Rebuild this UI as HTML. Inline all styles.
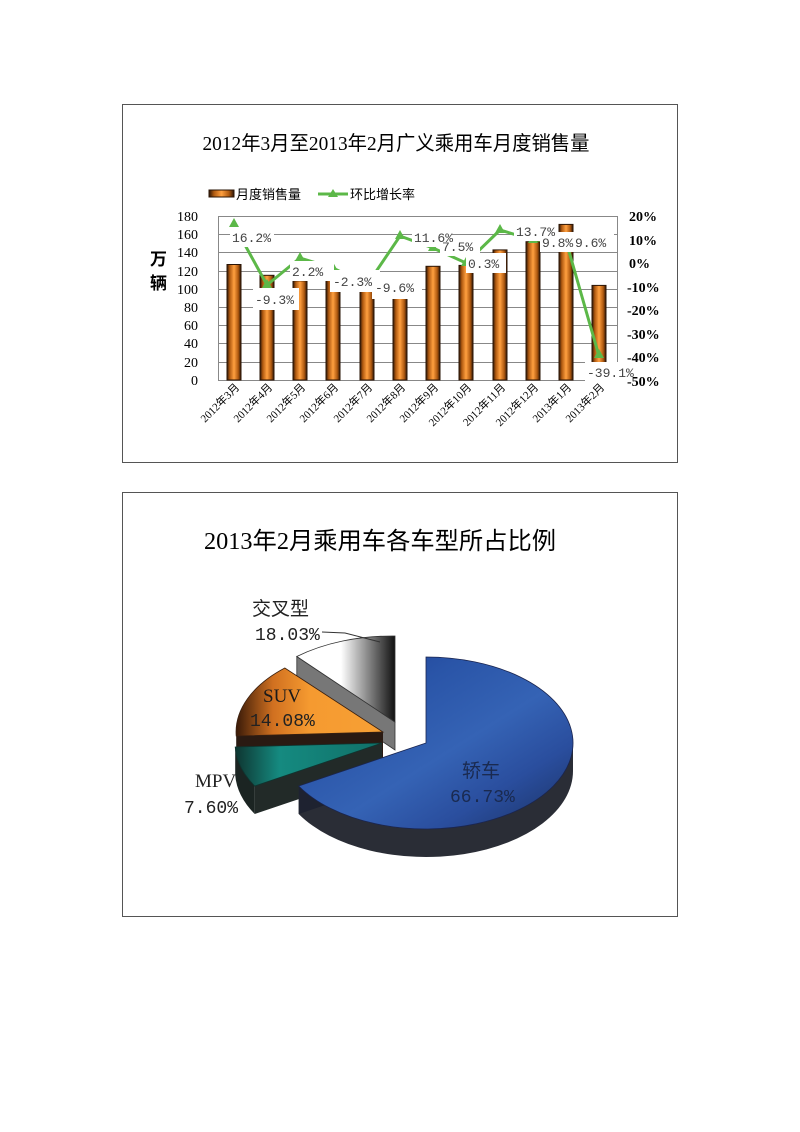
<!DOCTYPE html>
<html><head><meta charset="utf-8"><style>
html,body{margin:0;padding:0;background:#fff;}
svg{display:block;}
text{font-family:"Liberation Serif","Noto Serif CJK SC",serif;}
.cjk,.cjk text{font-family:"Liberation Serif","Noto Sans CJK SC",sans-serif;}
.mono,.mono text{font-family:"Liberation Mono","Noto Sans CJK SC",monospace;}
</style></head><body>
<svg width="800" height="1132" viewBox="0 0 800 1132" xmlns="http://www.w3.org/2000/svg">
<defs>
<linearGradient id="bar" x1="0" x2="1" y1="0" y2="0">
<stop offset="0" stop-color="#2a1406"/><stop offset="0.2" stop-color="#b05a10"/><stop offset="0.5" stop-color="#ffa040"/><stop offset="0.8" stop-color="#b05a10"/><stop offset="1" stop-color="#2a1406"/>
</linearGradient>
<linearGradient id="sedan" x1="0" y1="0" x2="1" y2="1">
<stop offset="0" stop-color="#1a3a90"/><stop offset="0.3" stop-color="#2a55a8"/><stop offset="0.55" stop-color="#3563b5"/><stop offset="0.75" stop-color="#2a4e9e"/><stop offset="1" stop-color="#1a3060"/>
</linearGradient>
<linearGradient id="white" x1="0" y1="0" x2="1" y2="0">
<stop offset="0" stop-color="#fff"/><stop offset="0.45" stop-color="#fff"/><stop offset="1" stop-color="#111"/>
</linearGradient>
<linearGradient id="suv" x1="0" y1="0" x2="1" y2="0">
<stop offset="0" stop-color="#3a1a08"/><stop offset="0.25" stop-color="#d07020"/><stop offset="0.5" stop-color="#f59a30"/><stop offset="1" stop-color="#f7a035"/>
</linearGradient>
<linearGradient id="mpv" x1="0" y1="0" x2="1" y2="0">
<stop offset="0" stop-color="#0e3530"/><stop offset="0.3" stop-color="#158a80"/><stop offset="1" stop-color="#107068"/>
</linearGradient>
</defs>

<rect x="122.5" y="104.5" width="555" height="358" fill="#fff" stroke="#555" stroke-width="1"/>
<text x="396" y="150" font-size="20" text-anchor="middle" textLength="387" lengthAdjust="spacingAndGlyphs" class="cjk">2012年3月至2013年2月广义乘用车月度销售量</text>

<rect x="209" y="190" width="25" height="7" fill="url(#bar)" stroke="#2a1406" stroke-width="1"/>
<text x="236" y="199" font-size="13" class="cjk">月度销售量</text>
<line x1="318" y1="194" x2="348" y2="194" stroke="#5cb848" stroke-width="3"/>
<polygon points="333,189 338,197 328,197" fill="#5cb848"/>
<text x="350" y="199" font-size="13" class="cjk">环比增长率</text>

<g stroke="#888" stroke-width="1">
<line x1="218" y1="216.5" x2="617" y2="216.5"/>
<line x1="218" y1="234.5" x2="617" y2="234.5"/>
<line x1="218" y1="252.5" x2="617" y2="252.5"/>
<line x1="218" y1="271.5" x2="617" y2="271.5"/>
<line x1="218" y1="289.5" x2="617" y2="289.5"/>
<line x1="218" y1="307.5" x2="617" y2="307.5"/>
<line x1="218" y1="325.5" x2="617" y2="325.5"/>
<line x1="218" y1="343.5" x2="617" y2="343.5"/>
<line x1="218" y1="362.5" x2="617" y2="362.5"/>
<line x1="218" y1="380.5" x2="617" y2="380.5"/>
<line x1="218.5" y1="216" x2="218.5" y2="380"/>
<line x1="617.5" y1="216" x2="617.5" y2="380"/>
</g>

<g fill="url(#bar)" stroke="#2a1406" stroke-width="1">
<rect x="227" y="264.5" width="14" height="115.5"/>
<rect x="260" y="275.3" width="14" height="104.7"/>
<rect x="293" y="280.8" width="14" height="99.2"/>
<rect x="326" y="275.3" width="14" height="104.7"/>
<rect x="360" y="290.8" width="14" height="89.2"/>
<rect x="393" y="296.3" width="14" height="83.7"/>
<rect x="426" y="266.3" width="14" height="113.7"/>
<rect x="459" y="265.4" width="14" height="114.6"/>
<rect x="493" y="249.9" width="14" height="130.1"/>
<rect x="526" y="241.7" width="14" height="138.3"/>
<rect x="559" y="224.4" width="14" height="155.6"/>
<rect x="592" y="285.4" width="14" height="94.6"/>
</g>

<polyline fill="none" stroke="#5cb848" stroke-width="3" points="234,225 267,285 300,258 333,268 367,285 400,236 433,248 466,263 500,230 533,240 566,241 599,356"/>
<g fill="#5cb848">
<polygon points="234,218 239,227 229,227"/>
<polygon points="267,279 272,288 262,288"/>
<polygon points="300,252 305,261 295,261"/>
<polygon points="333,262 338,271 328,271"/>
<polygon points="400,230 405,239 395,239"/>
<polygon points="433,242 438,251 428,251"/>
<polygon points="466,257 471,266 461,266"/>
<polygon points="500,224 505,233 495,233"/>
<polygon points="533,234 538,243 528,243"/>
<polygon points="599,349 604,358 594,358"/>
</g>

<g fill="#fff">
<rect x="230" y="227" width="44" height="20"/>
<rect x="253" y="288" width="46" height="22"/>
<rect x="290" y="261" width="44" height="20"/>
<rect x="330" y="270" width="50" height="22"/>
<rect x="372" y="277" width="50" height="22"/>
<rect x="412" y="227" width="40" height="20"/>
<rect x="440" y="236" width="40" height="20"/>
<rect x="466" y="253" width="40" height="20"/>
<rect x="514" y="221" width="40" height="20"/>
<rect x="540" y="232" width="40" height="20"/>
<rect x="572" y="232" width="42" height="20"/>
<rect x="585" y="362" width="52" height="20"/>
</g>
<g font-size="13" fill="#444" class="mono">
<text x="232" y="242">16.2%</text>
<text x="255" y="304">-9.3%</text>
<text x="292" y="276">2.2%</text>
<text x="333" y="286">-2.3%</text>
<text x="375" y="292">-9.6%</text>
<text x="414" y="242">11.6%</text>
<text x="442" y="251">7.5%</text>
<text x="468" y="268">0.3%</text>
<text x="516" y="236">13.7%</text>
<text x="542" y="247">9.8%</text>
<text x="575" y="247">9.6%</text>
<text x="587" y="377">-39.1%</text>
</g>

<g font-size="14" text-anchor="end" fill="#000">
<text x="198" y="221">180</text><text x="198" y="239">160</text><text x="198" y="257">140</text><text x="198" y="276">120</text><text x="198" y="294">100</text><text x="198" y="312">80</text><text x="198" y="330">60</text><text x="198" y="348">40</text><text x="198" y="367">20</text><text x="198" y="385">0</text>
</g>
<text x="150" y="265" font-size="17" font-weight="bold" class="cjk">万</text>
<text x="150" y="289" font-size="17" font-weight="bold" class="cjk">辆</text>
<g font-size="14" fill="#000" font-weight="bold">
<text x="629" y="221">20%</text><text x="629" y="245">10%</text><text x="629" y="268">0%</text><text x="627" y="292">-10%</text><text x="627" y="315">-20%</text><text x="627" y="339">-30%</text><text x="627" y="362">-40%</text><text x="627" y="386">-50%</text>
</g>
<g font-size="11" text-anchor="end" class="cjk">
<text transform="translate(240,388) rotate(-45)">2012年3月</text>
<text transform="translate(273,388) rotate(-45)">2012年4月</text>
<text transform="translate(306,388) rotate(-45)">2012年5月</text>
<text transform="translate(339,388) rotate(-45)">2012年6月</text>
<text transform="translate(373,388) rotate(-45)">2012年7月</text>
<text transform="translate(406,388) rotate(-45)">2012年8月</text>
<text transform="translate(439,388) rotate(-45)">2012年9月</text>
<text transform="translate(472,388) rotate(-45)">2012年10月</text>
<text transform="translate(506,388) rotate(-45)">2012年11月</text>
<text transform="translate(539,388) rotate(-45)">2012年12月</text>
<text transform="translate(572,388) rotate(-45)">2013年1月</text>
<text transform="translate(605,388) rotate(-45)">2013年2月</text>
</g>

<rect x="122.5" y="492.5" width="555" height="424" fill="#fff" stroke="#555" stroke-width="1"/>
<text x="380" y="549" font-size="24" text-anchor="middle" textLength="352" lengthAdjust="spacingAndGlyphs" class="cjk">2013年2月乘用车各车型所占比例</text>

<polygon points="395,722 296.8,656.5 296.8,684 395,750" fill="#777" stroke="#333" stroke-width="0.8"/>
<path d="M395,722 L296.8,656.5 A147,86 0 0,1 395,636 Z" fill="url(#white)" stroke="#333" stroke-width="0.8"/>
<polyline points="322,632 345,633 380,642" fill="none" stroke="#333" stroke-width="1"/>

<polygon points="383,732 236.2,736 236.2,764 383,760" fill="#2a1a12"/>
<path d="M383,732 L236.2,736 A147,86 0 0,1 284.8,668 Z" fill="url(#suv)" stroke="#3a2010" stroke-width="0.8"/>

<path d="M254.7,786 A147,86 0 0,1 235.2,747 L235.2,775 A147,86 0 0,0 254.7,814 Z" fill="#1b2422"/>
<polygon points="382,743 254.7,786 254.7,814 382,771" fill="#222a28"/>
<path d="M382,743 L254.7,786 A147,86 0 0,1 235.2,747 Z" fill="url(#mpv)" stroke="#0e3530" stroke-width="0.8"/>

<path d="M573,743 A147,86 0 0,1 298.7,786 L298.7,814 A147,86 0 0,0 573,771 Z" fill="#2a2d36"/>
<polygon points="426,743 298.7,786 298.7,814 426,771" fill="#1e2230"/>
<path d="M426,743 L426,657 A147,86 0 1,1 298.7,786 Z" fill="url(#sedan)" stroke="#1a2550" stroke-width="0.8"/>

<g font-size="19" fill="#222">
<text x="252" y="615" class="cjk">交叉型</text>
<text x="255" y="640" class="mono" font-size="18">18.03%</text>
<text x="263" y="702" fill="#1a1a1a">SUV</text>
<text x="250" y="726" class="mono" font-size="18" fill="#222">14.08%</text>
<text x="195" y="787">MPV</text>
<text x="184" y="813" class="mono" font-size="18">7.60%</text>
<text x="462" y="777" class="cjk" fill="#1a2a50">轿车</text>
<text x="450" y="802" class="mono" font-size="18" fill="#1a2a50">66.73%</text>
</g>
</svg>
</body></html>
